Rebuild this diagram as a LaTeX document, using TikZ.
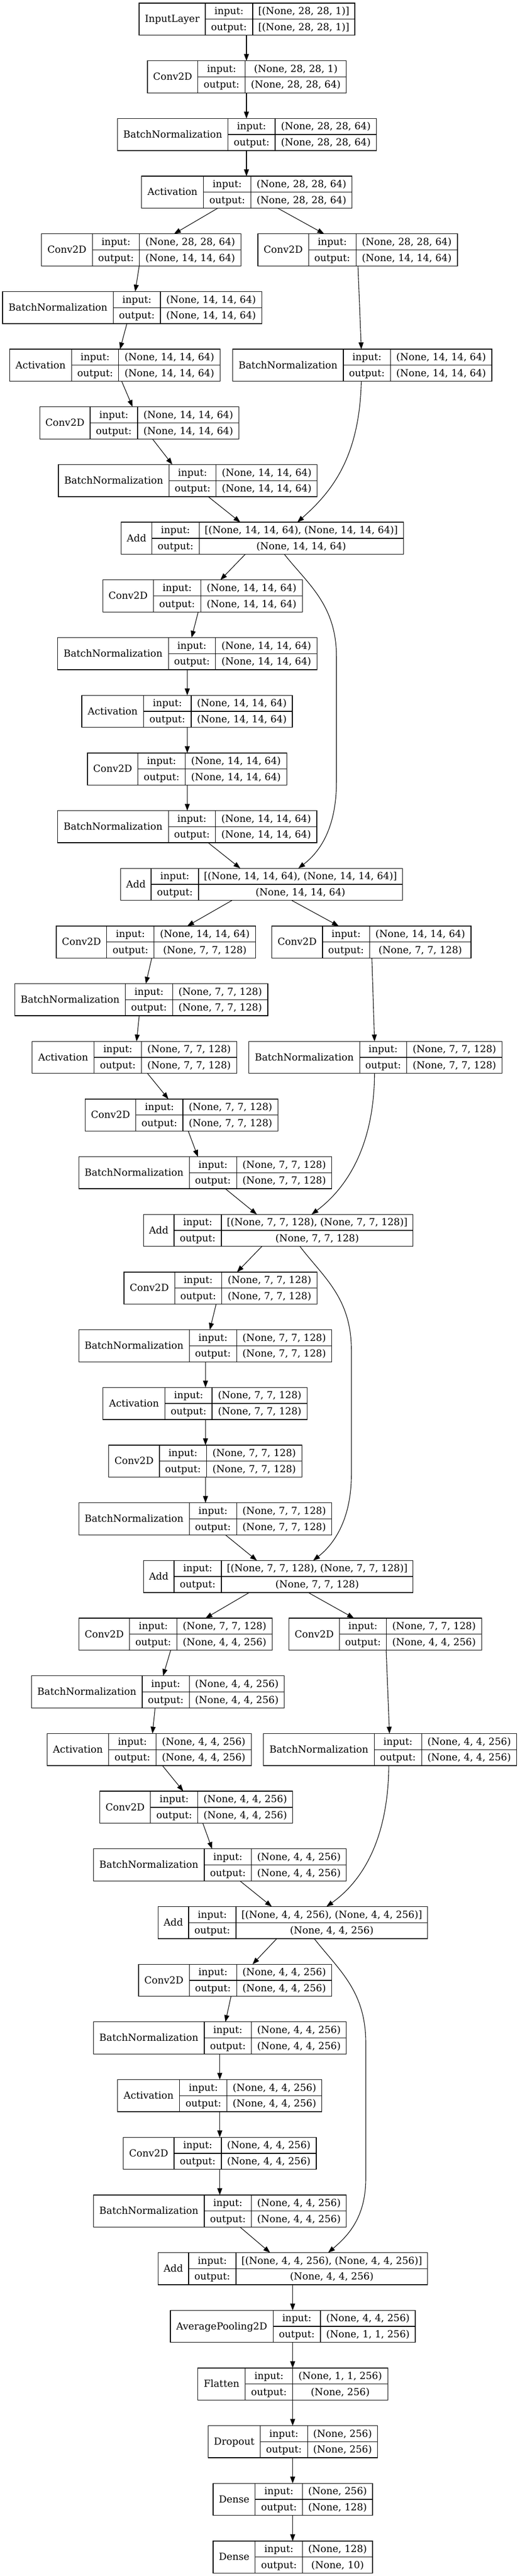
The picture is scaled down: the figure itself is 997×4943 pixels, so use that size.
\documentclass[tikz,border=0pt]{standalone}
\usepackage{fontspec}
\setmainfont{DejaVu Serif}
\usetikzlibrary{arrows.meta}

\tikzset{
  recbox/.style={draw, line width=1.3pt, minimum height=61.5pt, inner sep=0pt, outer sep=0pt, anchor=north west},
  cell/.style={inner sep=0pt, text height=16pt, text depth=3.6pt},
  link/.style={line width=1.1pt, -{Triangle[length=13pt,width=9.5pt]}},
}

% #1 name, #2-#5 x of the column edges, #6 rank, #7 layer, #8 input, #9 output
\newcommand{\layerrec}[9]{%
  \pgfmathsetmacro{\ytop}{-6-(#6-1)*110.68}
  \node[recbox, minimum width={#5-#2}] (#1) at (#2,\ytop) {};
  \draw[line width=1.3pt] (#3,\ytop) -- ++(0,-61.5) (#4,\ytop) -- ++(0,-61.5)
    (#3,\ytop-30.75) -- (#5,\ytop-30.75);
  \node[cell] (#1l) at ({(#2+#3)/2},\ytop-30.75) {#7};
  \node[cell] (#1i) at ({(#3+#4)/2},\ytop-15.4) {input:};
  \node[cell] (#1o) at ({(#3+#4)/2},\ytop-46.1) {output:};
  \node[cell] (#1a) at ({(#4+#5)/2},\ytop-15.4) {#8};
  \node[cell] (#1b) at ({(#4+#5)/2},\ytop-46.1) {#9};
}

\begin{document}
\begin{tikzpicture}[x=1pt, y=1pt, font=\fontsize{18.67}{22}\selectfont]
\useasboundingbox (0,0) rectangle (997,-4943);

\layerrec{in1}{267}{394}{485}{681}{1}{InputLayer}{[(None, 28, 28, 1)]}{[(None, 28, 28, 1)]}
\layerrec{cv2}{283.1}{379.8}{470.7}{664.8}{2}{Conv2D}{(None, 28, 28, 1)}{(None, 28, 28, 64)}
\layerrec{bn3}{225.2}{437.7}{528.0}{722.6}{3}{BatchNormalization}{(None, 28, 28, 64)}{(None, 28, 28, 64)}
\layerrec{ac4}{271.6}{390.6}{481.6}{675.6}{4}{Activation}{(None, 28, 28, 64)}{(None, 28, 28, 64)}
\layerrec{cv5a}{79.5}{177.5}{267.8}{462.5}{5}{Conv2D}{(None, 28, 28, 64)}{(None, 14, 14, 64)}
\layerrec{cv5b}{494.9}{592.2}{683.2}{877.9}{5}{Conv2D}{(None, 28, 28, 64)}{(None, 14, 14, 64)}
\layerrec{bn6}{5.1}{217.6}{307.9}{502.5}{6}{BatchNormalization}{(None, 14, 14, 64)}{(None, 14, 14, 64)}
\layerrec{ac7}{18.4}{137.4}{227.7}{422.4}{7}{Activation}{(None, 14, 14, 64)}{(None, 14, 14, 64)}
\layerrec{bn7}{446.6}{659.0}{749.4}{944.0}{7}{BatchNormalization}{(None, 14, 14, 64)}{(None, 14, 14, 64)}
\layerrec{cv8}{76.3}{173.0}{264.0}{458.7}{8}{Conv2D}{(None, 14, 14, 64)}{(None, 14, 14, 64)}
\layerrec{bn9}{112.0}{324.4}{414.8}{608.8}{9}{BatchNormalization}{(None, 14, 14, 64)}{(None, 14, 14, 64)}
\layerrec{ad10}{232.8}{291.3}{382.3}{774.2}{10}{Add}{[(None, 14, 14, 64), (None, 14, 14, 64)]}{(None, 14, 14, 64)}
\layerrec{cv11}{197.2}{294.5}{385.5}{580.2}{11}{Conv2D}{(None, 14, 14, 64)}{(None, 14, 14, 64)}
\layerrec{bn12}{110.7}{323.2}{413.5}{608.8}{12}{BatchNormalization}{(None, 14, 14, 64)}{(None, 14, 14, 64)}
\layerrec{ac13}{157.1}{275.4}{367.0}{561.1}{13}{Activation}{(None, 14, 14, 64)}{(None, 14, 14, 64)}
\layerrec{cv14}{167.9}{264.6}{355.6}{550.3}{14}{Conv2D}{(None, 14, 14, 64)}{(None, 14, 14, 64)}
\layerrec{bn15}{110.7}{323.2}{413.5}{608.1}{15}{BatchNormalization}{(None, 14, 14, 64)}{(None, 14, 14, 64)}
\layerrec{ad16}{231.6}{290.1}{381.0}{772.3}{16}{Add}{[(None, 14, 14, 64), (None, 14, 14, 64)]}{(None, 14, 14, 64)}
\layerrec{cv17a}{108.1}{204.8}{295.8}{490.5}{17}{Conv2D}{(None, 14, 14, 64)}{(None, 7, 7, 128)}
\layerrec{cv17b}{521.6}{619.0}{709.3}{903.9}{17}{Conv2D}{(None, 14, 14, 64)}{(None, 7, 7, 128)}
\layerrec{bn18}{28.6}{240.5}{331.4}{514.0}{18}{BatchNormalization}{(None, 7, 7, 128)}{(None, 7, 7, 128)}
\layerrec{ac19}{61.7}{180.7}{271.6}{454.2}{19}{Activation}{(None, 7, 7, 128)}{(None, 7, 7, 128)}
\layerrec{bn19}{477.7}{690.2}{780.5}{963.7}{19}{BatchNormalization}{(None, 7, 7, 128)}{(None, 7, 7, 128)}
\layerrec{cv20}{163.5}{260.8}{351.1}{533.7}{20}{Conv2D}{(None, 7, 7, 128)}{(None, 7, 7, 128)}
\layerrec{bn21}{151.4}{363.2}{454.2}{636.8}{21}{BatchNormalization}{(None, 7, 7, 128)}{(None, 7, 7, 128)}
\layerrec{ad22}{275.4}{334.0}{424.9}{792.6}{22}{Add}{[(None, 7, 7, 128), (None, 7, 7, 128)]}{(None, 7, 7, 128)}
\layerrec{cv23}{237.9}{335.2}{425.6}{608.8}{23}{Conv2D}{(None, 7, 7, 128)}{(None, 7, 7, 128)}
\layerrec{bn24}{151.4}{363.2}{454.2}{636.8}{24}{BatchNormalization}{(None, 7, 7, 128)}{(None, 7, 7, 128)}
\layerrec{ac25}{197.8}{316.8}{407.1}{589.7}{25}{Activation}{(None, 7, 7, 128)}{(None, 7, 7, 128)}
\layerrec{cv26}{208.7}{306.0}{396.3}{579.5}{26}{Conv2D}{(None, 7, 7, 128)}{(None, 7, 7, 128)}
\layerrec{bn27}{151.4}{363.2}{454.2}{636.8}{27}{BatchNormalization}{(None, 7, 7, 128)}{(None, 7, 7, 128)}
\layerrec{ad28}{275.4}{334.0}{424.9}{792.6}{28}{Add}{[(None, 7, 7, 128), (None, 7, 7, 128)]}{(None, 7, 7, 128)}
\layerrec{cv29a}{151.4}{248.7}{339.7}{522.3}{29}{Conv2D}{(None, 7, 7, 128)}{(None, 4, 4, 256)}
\layerrec{cv29b}{554.7}{651.4}{741.7}{924.3}{29}{Conv2D}{(None, 7, 7, 128)}{(None, 4, 4, 256)}
\layerrec{bn30}{60.4}{272.9}{363.2}{545.8}{30}{BatchNormalization}{(None, 4, 4, 256)}{(None, 4, 4, 256)}
\layerrec{ac31}{90.3}{208.7}{299.6}{482.2}{31}{Activation}{(None, 4, 4, 256)}{(None, 4, 4, 256)}
\layerrec{bn31}{505.7}{718.2}{809.2}{991.7}{31}{BatchNormalization}{(None, 4, 4, 256)}{(None, 4, 4, 256)}
\layerrec{cv32}{191.5}{288.8}{379.8}{561.7}{32}{Conv2D}{(None, 4, 4, 256)}{(None, 4, 4, 256)}
\layerrec{bn33}{179.4}{391.9}{482.8}{664.8}{33}{BatchNormalization}{(None, 4, 4, 256)}{(None, 4, 4, 256)}
\layerrec{ad34}{303.4}{362.0}{452.9}{820.6}{34}{Add}{[(None, 4, 4, 256), (None, 4, 4, 256)]}{(None, 4, 4, 256)}
\layerrec{cv35}{265.9}{363.2}{454.2}{636.8}{35}{Conv2D}{(None, 4, 4, 256)}{(None, 4, 4, 256)}
\layerrec{bn36}{179.4}{391.9}{482.8}{664.8}{36}{BatchNormalization}{(None, 4, 4, 256)}{(None, 4, 4, 256)}
\layerrec{ac37}{225.8}{344.8}{435.8}{617.7}{37}{Activation}{(None, 4, 4, 256)}{(None, 4, 4, 256)}
\layerrec{cv38}{236.6}{334.0}{424.9}{606.9}{38}{Conv2D}{(None, 4, 4, 256)}{(None, 4, 4, 256)}
\layerrec{bn39}{179.4}{391.9}{482.8}{664.8}{39}{BatchNormalization}{(None, 4, 4, 256)}{(None, 4, 4, 256)}
\layerrec{ad40}{303.4}{362.0}{452.9}{820.6}{40}{Add}{[(None, 4, 4, 256), (None, 4, 4, 256)]}{(None, 4, 4, 256)}
\layerrec{ap41}{327.0}{524.2}{615.1}{797.1}{41}{AveragePooling2D}{(None, 4, 4, 256)}{(None, 1, 1, 256)}
\layerrec{fl42}{379.8}{470.7}{561.7}{744.3}{42}{Flatten}{(None, 1, 1, 256)}{(None, 256)}
\layerrec{dr43}{399.5}{499.4}{590.3}{724.6}{43}{Dropout}{(None, 256)}{(None, 256)}
\layerrec{de44}{409.0}{489.8}{580.8}{715.0}{44}{Dense}{(None, 256)}{(None, 128)}
\layerrec{de45}{409.0}{489.8}{580.8}{715.0}{45}{Dense}{(None, 128)}{(None, 10)}

\draw[link] (in1.south -| 473,0) -- (cv2.north -| 473,0);
\draw[link] (cv2.south -| 473,0) -- (bn3.north -| 473,0);
\draw[link] (bn3.south -| 473,0) -- (ac4.north -| 473,0);
\draw[link] (ac4.south -| 417.9,0) -- (cv5a.north -| 334,0);
\draw[link] (ac4.south -| 533.1,0) -- (cv5b.north -| 622.1,0);
\draw[link] (cv5a.south -| 267.2,0) -- (bn6.north -| 259.5,0);
\draw[link] (cv5b.south -| 687,0) -- (bn7.north -| 693.4,0);
\draw[link] (bn6.south -| 243.6,0) -- (ac7.north -| 230.3,0);
\draw[link] (ac7.south -| 233.5,0) -- (cv8.north -| 254.5,0);
\draw[link] (cv8.south -| 292.6,0) -- (bn9.north -| 330.8,0);
\draw[link] (bn9.south -| 399.5,0) -- (ad10.north -| 461.2,0);
\draw[link] (bn7.south -| 693.4,0) .. controls (690,-880) and (635,-945) .. (ad10.north -| 570.6,0);
\draw[link] (ad10.south -| 470.7,0) -- (cv11.north -| 423,0);
\draw[link] (ad10.south -| 545.8,0) .. controls (590,-1120) and (645.7,-1160) .. (645.7,-1260)
  -- (645.7,-1500) .. controls (645.7,-1580) and (620,-1630) .. (ad16.north -| 572.5,0);
\draw[link] (cv11.south -| 380.4,0) -- (bn12.north -| 367.7,0);
\draw[link] (bn12.south -| 359.4,0) -- (ac13.north -| 359.4,0);
\draw[link] (ac13.south -| 359.4,0) -- (cv14.north -| 359.4,0);
\draw[link] (cv14.south -| 359.4,0) -- (bn15.north -| 359.4,0);
\draw[link] (bn15.south -| 399.5,0) -- (ad16.north -| 461.2,0);
\draw[link] (ad16.south -| 445.3,0) -- (cv17a.north -| 359.4,0);
\draw[link] (ad16.south -| 559.8,0) -- (cv17b.north -| 650.1,0);
\draw[link] (cv17a.south -| 291.3,0) -- (bn18.north -| 279.9,0);
\draw[link] (cv17b.south -| 713.7,0) -- (bn19.north -| 718.8,0);
\draw[link] (bn18.south -| 267.2,0) -- (ac19.north -| 262.1,0);
\draw[link] (ac19.south -| 283.1,0) -- (cv20.north -| 323.2,0);
\draw[link] (cv20.south -| 361.3,0) -- (bn21.north -| 379.8,0);
\draw[link] (bn21.south -| 432.6,0) -- (ad22.north -| 493,0);
\draw[link] (bn19.south -| 718.8,0) .. controls (718,-2200) and (665,-2280) .. (ad22.north -| 598,0);
\draw[link] (ad22.south -| 502.5,0) -- (cv23.north -| 454.8,0);
\draw[link] (ad22.south -| 575.7,0) .. controls (620,-2450) and (674.3,-2490) .. (674.3,-2590)
  -- (674.3,-2830) .. controls (674.3,-2910) and (645,-2960) .. (ad28.north -| 601.1,0);
\draw[link] (cv23.south -| 414.8,0) -- (bn24.north -| 402.7,0);
\draw[link] (bn24.south -| 394.4,0) -- (ac25.north -| 394.4,0);
\draw[link] (ac25.south -| 394.4,0) -- (cv26.north -| 394.4,0);
\draw[link] (cv26.south -| 394.4,0) -- (bn27.north -| 394.4,0);
\draw[link] (bn27.south -| 432.6,0) -- (ad28.north -| 493,0);
\draw[link] (ad28.south -| 478.4,0) -- (cv29a.north -| 394.4,0);
\draw[link] (ad28.south -| 591.6,0) -- (cv29b.north -| 679.4,0);
\draw[link] (cv29a.south -| 327.6,0) -- (bn30.north -| 313,0);
\draw[link] (cv29b.south -| 741.1,0) -- (bn31.north -| 747.5,0);
\draw[link] (bn30.south -| 297.7,0) -- (ac31.north -| 292.6,0);
\draw[link] (ac31.south -| 311.7,0) -- (cv32.north -| 351.8,0);
\draw[link] (cv32.south -| 389.3,0) -- (bn33.north -| 407.1,0);
\draw[link] (bn33.south -| 460.6,0) -- (ad34.north -| 521.6,0);
\draw[link] (bn31.south -| 746.2,0) .. controls (745,-3530) and (695,-3610) .. (ad34.north -| 626.6,0);
\draw[link] (ad34.south -| 531.2,0) -- (cv35.north -| 484.7,0);
\draw[link] (ad34.south -| 603.1,0) .. controls (650,-3780) and (702,-3820) .. (702,-3920)
  -- (702,-4180) .. controls (702,-4255) and (668,-4290) .. (ad40.north -| 629.8,0);
\draw[link] (cv35.south -| 443.4,0) -- (bn36.north -| 432.6,0);
\foreach \a/\b in {bn36/ac37, ac37/cv38, cv38/bn39}
  \draw[link] (\a.south -| 421.8,0) -- (\b.north -| 421.8,0);
\draw[link] (bn39.south -| 460.6,0) -- (ad40.north -| 518.4,0);
\foreach \a/\b in {ad40/ap41, ap41/fl42, fl42/dr43, dr43/de44, de44/de45}
  \draw[link] (\a.south -| 561.7,0) -- (\b.north -| 561.7,0);
\end{tikzpicture}
\end{document}
